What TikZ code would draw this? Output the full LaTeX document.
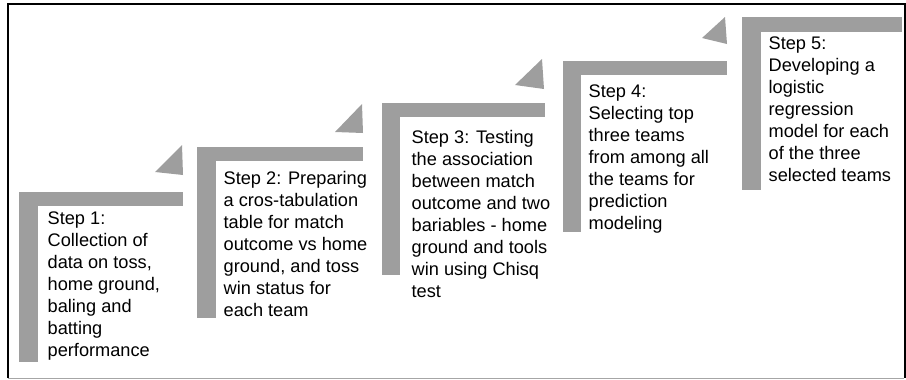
\documentclass[tikz,border=0pt]{standalone}
\usepackage{fontspec}
\setmainfont{Liberation Sans}
\usetikzlibrary{positioning}
\definecolor{cgrey}{HTML}{9E9E9E}
\definecolor{cframe}{HTML}{A6A6A6}
\tikzset{
  every picture/.style={line width=1pt},
  stair/.style={fill=cgrey},
  tip/.style={fill=cgrey},
  steptext/.style={anchor=north west, inner sep=0pt, align=left, font=\fontsize{13.65}{16.5}\selectfont},
  frame/.style={draw=black, line width=1.5pt},
}

\begin{document}
\begin{tikzpicture}[x=0.75pt, y=-0.75pt]
  \useasboundingbox (0,0) rectangle (906,379);
  % border
  \draw[draw=cframe, line width=0.75pt] (8,378) -- (904,378);
  \draw[frame] (8,378) -- (8,4) -- (904.5,4) -- (904.5,378);

  % step 1
  \fill[stair] (19,192) rectangle (38,362);
  \fill[stair] (19,192) rectangle (183,206);
  \fill[tip] (155,172) -- (182,145) -- (183,175) -- cycle;
  \node[steptext] (s1) at (47,211) {Step 1:\\Collection of\\data on toss,\\home ground,\\baling and\\batting\\performance};

  % step 2
  \fill[stair] (197,147) rectangle (216,318);
  \fill[stair] (197,147) rectangle (363,161);
  \fill[tip] (335,132) -- (362,104) -- (363,133) -- cycle;
  \node[steptext] (s2) at (223,171) {Step 2: Preparing\\a cros-tabulation\\table for match\\outcome vs home\\ground, and toss\\win status for\\each team};

  % step 3
  \fill[stair] (382,103) rectangle (400,275);
  \fill[stair] (382,103) rectangle (545,117);
  \fill[tip] (515,85) -- (542,59) -- (544,89) -- cycle;
  \node[steptext] (s3) at (411,130) {Step 3: Testing\\the association\\between match\\outcome and two\\bariables - home\\ground and tools\\win using Chisq\\test};

  % step 4
  \fill[stair] (563,61) rectangle (581,232);
  \fill[stair] (563,61) rectangle (727,75);
  \fill[tip] (702,38) -- (725,17) -- (727,44) -- cycle;
  \node[steptext] (s4) at (588,84) {Step 4:\\Selecting top\\three teams\\from among all\\the teams for\\prediction\\modeling};

  % step 5
  \fill[stair] (742,17) rectangle (761,190);
  \fill[stair] (742,17) rectangle (902,32);
  \node[steptext] (s5) at (768,36) {Step 5:\\Developing a\\logistic\\regression\\model for each\\of the three\\selected teams};
\end{tikzpicture}
\end{document}
